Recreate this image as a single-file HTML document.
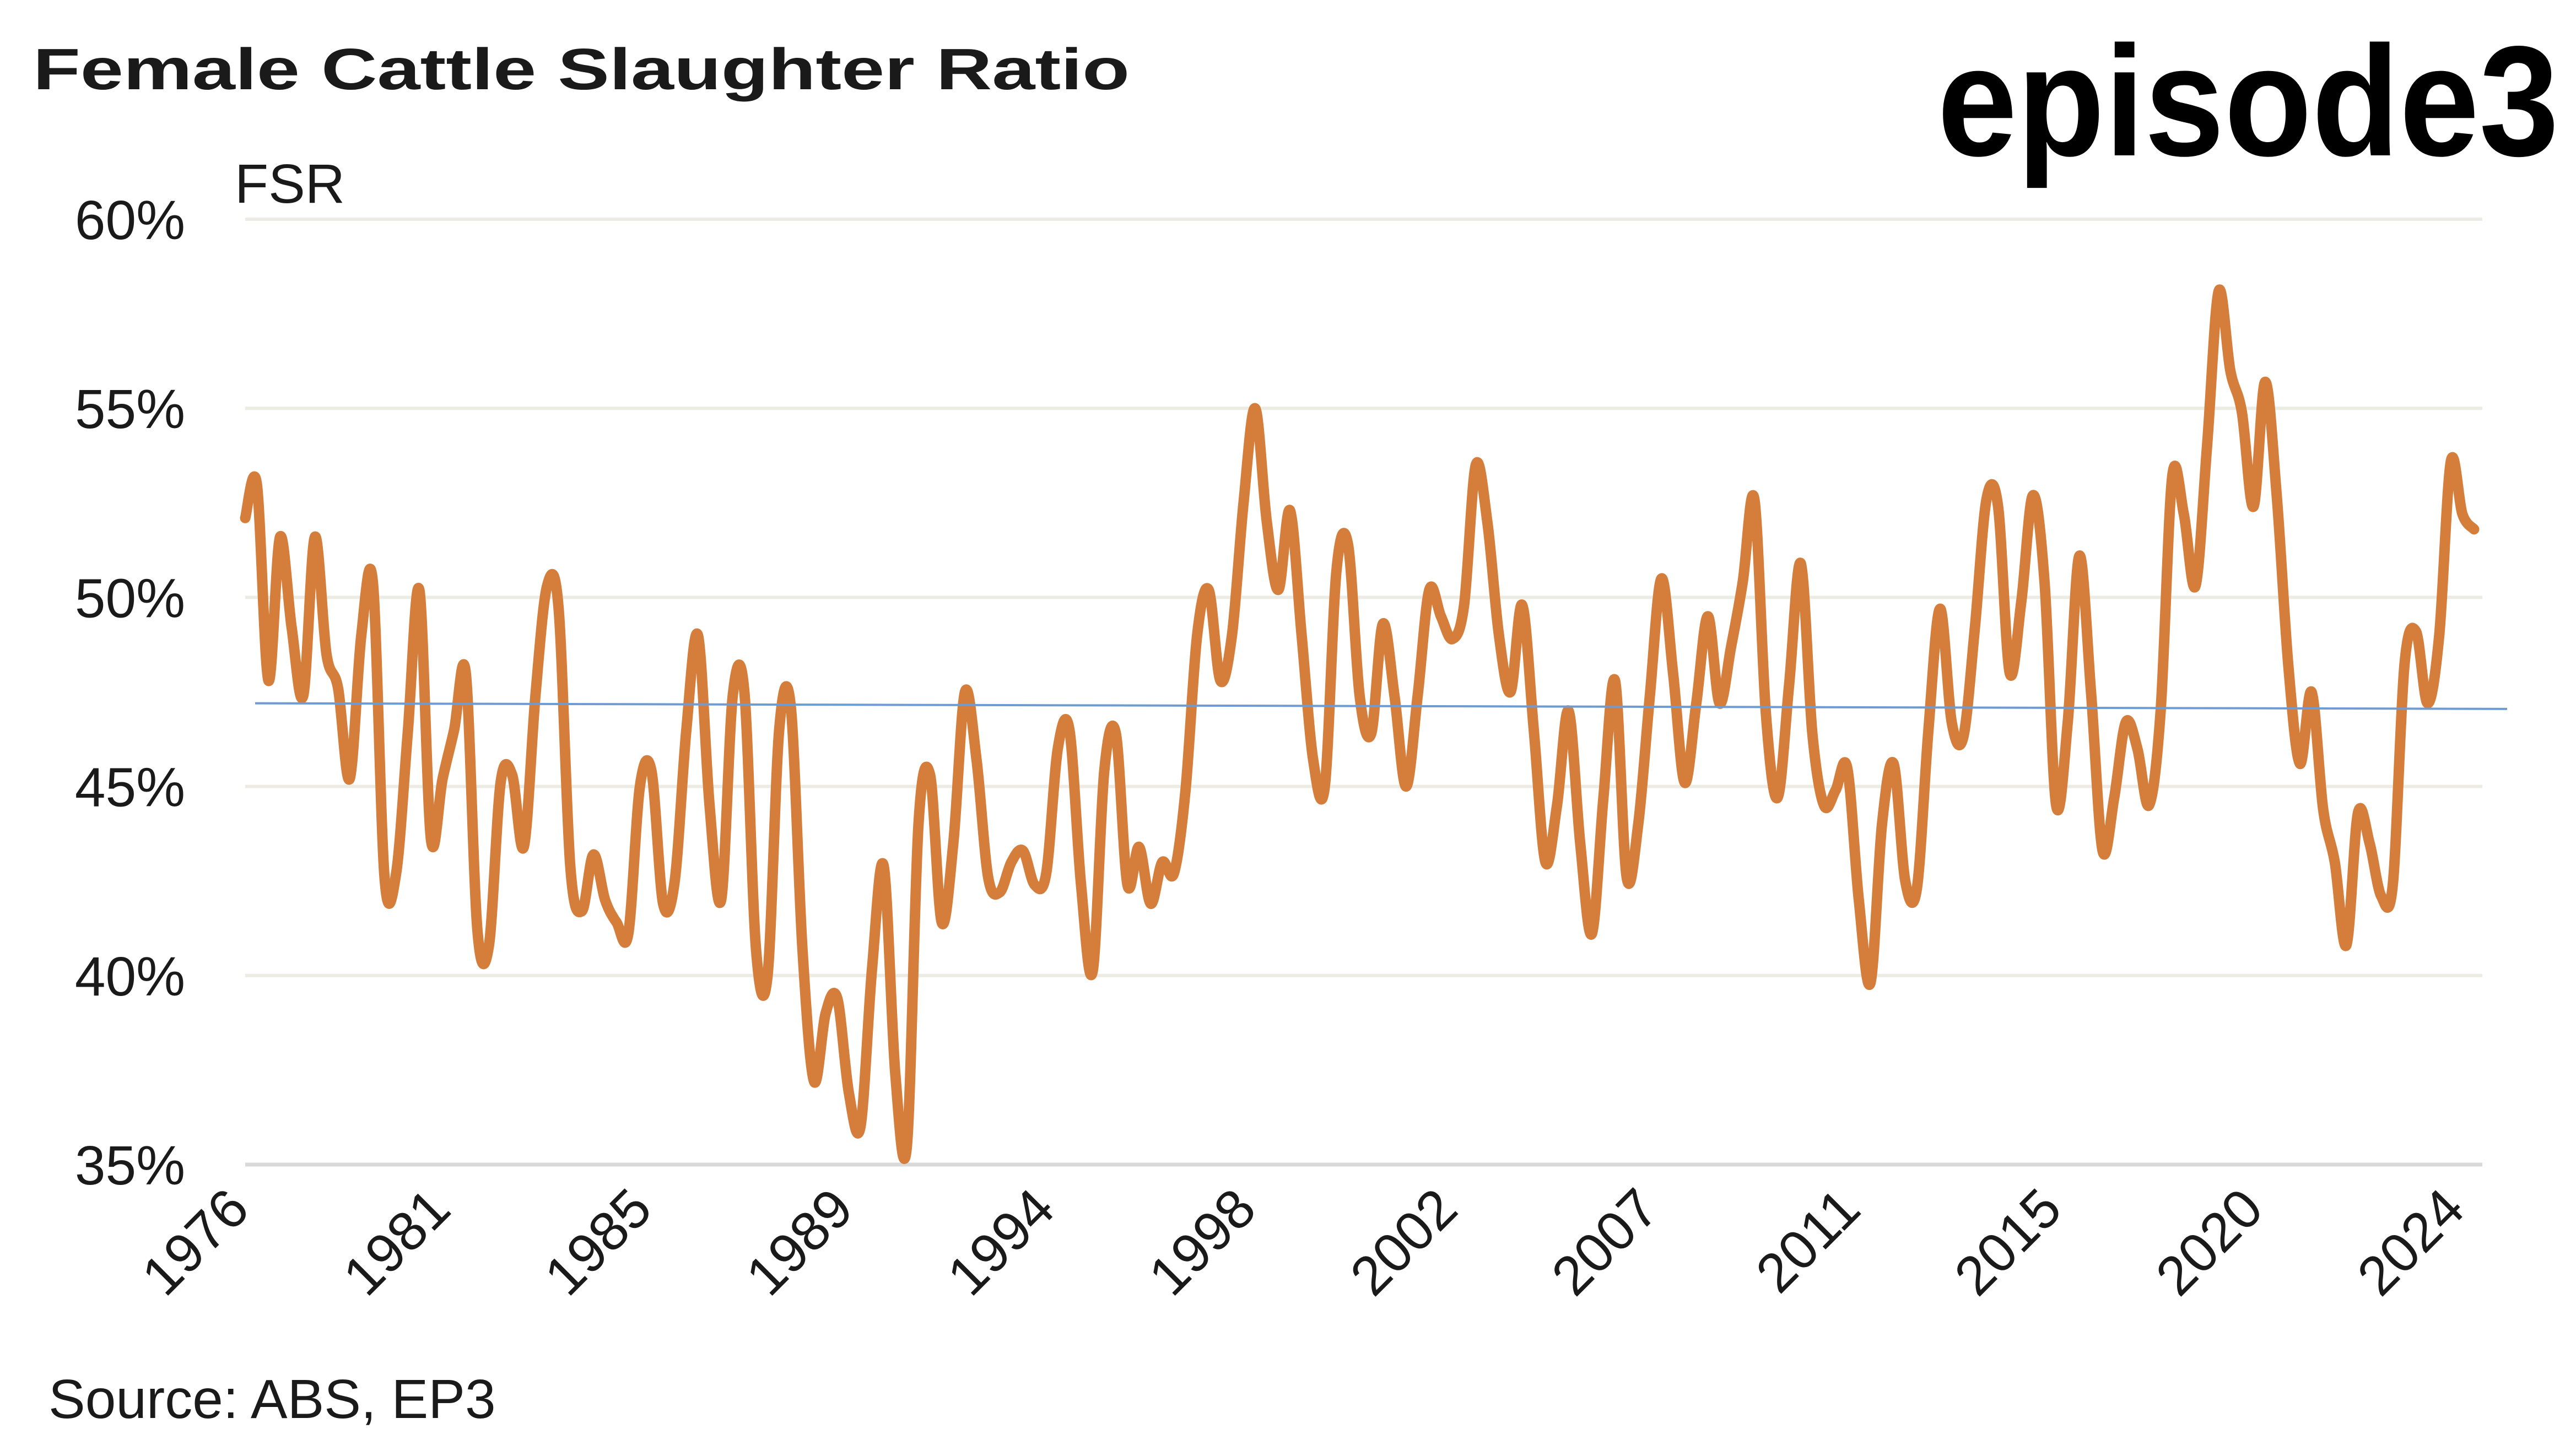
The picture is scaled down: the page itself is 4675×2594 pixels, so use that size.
<!DOCTYPE html>
<html><head><meta charset="utf-8">
<style>
html,body{margin:0;padding:0;background:#fff;}
svg{display:block;}
text{font-family:"Liberation Sans",sans-serif;}
</style></head>
<body>
<svg id="chart" width="4675" height="2594" viewBox="0 0 4675 2594" xmlns="http://www.w3.org/2000/svg">
  <rect x="0" y="0" width="4675" height="2594" fill="#ffffff"/>
  <text x="60" y="162" font-size="106" font-weight="bold" fill="#1a1a1a" textLength="1990" lengthAdjust="spacingAndGlyphs">Female Cattle Slaughter Ratio</text>
  <text x="3516" y="282" font-size="285" font-weight="bold" fill="#000" textLength="1128" lengthAdjust="spacingAndGlyphs">episode3</text>
  <text x="426" y="368" font-size="100" fill="#1a1a1a">FSR</text>
  <g id="grid"></g>
  <g id="yticks"></g>
  <g id="xticks"></g>
  <g id="series"></g>
  <text x="88" y="2574" font-size="100" fill="#1a1a1a">Source: ABS, EP3</text>
</svg>
<script>
const fsrValues = [
52.1,53.0,47.8,51.6,49.2,47.4,51.6,48.5,47.6,45.2,49.0,50.4,42.6,42.7,46.4,50.2,43.6,45.2,46.5,48.0,
41.2,40.8,45.1,45.3,43.4,47.4,50.3,49.7,42.9,41.7,43.2,42.0,41.4,41.1,45.0,45.4,41.9,42.5,46.5,49.0,
44.5,42.0,47.4,47.5,40.7,40.0,46.5,47.1,40.7,37.2,39.0,39.4,36.9,36.0,40.2,42.9,37.4,35.5,44.0,45.3,
41.4,43.5,47.5,45.7,42.6,42.2,43.0,43.3,42.4,42.7,46.0,46.5,42.4,40.1,45.4,46.4,42.4,43.4,41.9,43.0,
42.7,44.9,49.0,50.2,47.8,49.0,52.5,55.0,52.0,50.2,52.3,49.0,45.7,45.0,50.7,51.4,47.4,46.4,49.3,47.4,
45.0,47.4,50.2,49.5,48.9,49.8,53.5,52.0,49.0,47.5,49.8,46.5,43.0,44.5,47.0,43.5,41.1,44.7,47.8,42.6,
44.0,47.4,50.5,48.0,45.1,47.2,49.5,47.2,48.7,50.4,52.6,46.9,44.7,47.7,50.9,46.4,44.5,44.9,45.5,42.0,
39.8,44.0,45.6,42.5,42.3,46.5,49.7,46.7,46.3,49.2,52.6,52.4,48.0,49.9,52.7,50.4,44.5,46.7,51.1,47.5,
43.3,44.7,46.7,46.0,44.5,47.0,53.2,52.2,50.3,54.0,58.1,56.0,54.9,52.4,55.7,52.7,48.2,45.6,47.5,44.4,
43.0,40.8,44.3,43.5,42.1,42.4,48.2,49.1,47.2,49.0,53.6,52.2,51.8
];
const trendValues = [47.2, 47.05];
const yTickValues = [35,40,45,50,55,60];
const yTickLabels = ["35%","40%","45%","50%","55%","60%"];
const xTickLabels = ["1976","1981","1985","1989","1994","1998","2002","2007","2011","2015","2020","2024"];
const xTickIndex = [0,17.35,34.7,52.05,69.4,86.75,104.1,121.45,138.8,156.15,173.5,190.85];

const NS="http://www.w3.org/2000/svg";
const plotLeft=445, plotRight=4505, lineEnd=4490, yTop=398, yBottom=2114;
const yMin=35, yMax=60;
function xScale(i){return plotLeft + i*(lineEnd-plotLeft)/(fsrValues.length-1);}
function yScale(v){return yBottom - (v-yMin)/(yMax-yMin)*(yBottom-yTop);}
function mk(tag,attrs,parent){const e=document.createElementNS(NS,tag);for(const k in attrs)e.setAttribute(k,attrs[k]);parent.appendChild(e);return e;}

const grid=document.getElementById('grid');
const yt=document.getElementById('yticks');
yTickValues.forEach((v,k)=>{
  const ln=mk('line',{x1:plotLeft,x2:plotRight,y1:yScale(v),y2:yScale(v),stroke:v===yMin?'#d9d9d9':'#ecece4','stroke-width':v===yMin?7:6},grid);
  
  
  const t=mk('text',{x:336,y:yScale(v)+36,'font-size':100,'text-anchor':'end',fill:'#1a1a1a'},yt);
  t.textContent=yTickLabels[k];
  
  
});

const xt=document.getElementById('xticks');
xTickLabels.forEach((lab,k)=>{
  const x=xScale(xTickIndex[k])+12, y=2200;
  const t=mk('text',{x:x,y:y,'font-size':100,'text-anchor':'end',fill:'#1a1a1a',transform:'rotate(-45 '+x+' '+y+')'},xt);
  t.textContent=lab;
  
  
});

const pts=fsrValues.map((v,i)=>[xScale(i),yScale(v)]);
let d='M'+pts[0][0].toFixed(1)+','+pts[0][1].toFixed(1);
for(let i=0;i<pts.length-1;i++){
  const p0=pts[Math.max(i-1,0)],p1=pts[i],p2=pts[i+1],p3=pts[Math.min(i+2,pts.length-1)];
  const c1x=p1[0]+(p2[0]-p0[0])/6,c1y=p1[1]+(p2[1]-p0[1])/6;
  const c2x=p2[0]-(p3[0]-p1[0])/6,c2y=p2[1]-(p3[1]-p1[1])/6;
  d+=' C'+c1x.toFixed(1)+','+c1y.toFixed(1)+' '+c2x.toFixed(1)+','+c2y.toFixed(1)+' '+p2[0].toFixed(1)+','+p2[1].toFixed(1);
}
const ser=document.getElementById('series');

const path=mk('path',{d:d,fill:'none',stroke:'#d57d3b','stroke-width':19,'stroke-linejoin':'round','stroke-linecap':'round'},ser);



const tr=mk('line',{x1:463,y1:yScale(trendValues[0]),x2:4550,y2:yScale(trendValues[1]),stroke:'#6f9bd3','stroke-width':4},ser);


</script>
</body></html>
